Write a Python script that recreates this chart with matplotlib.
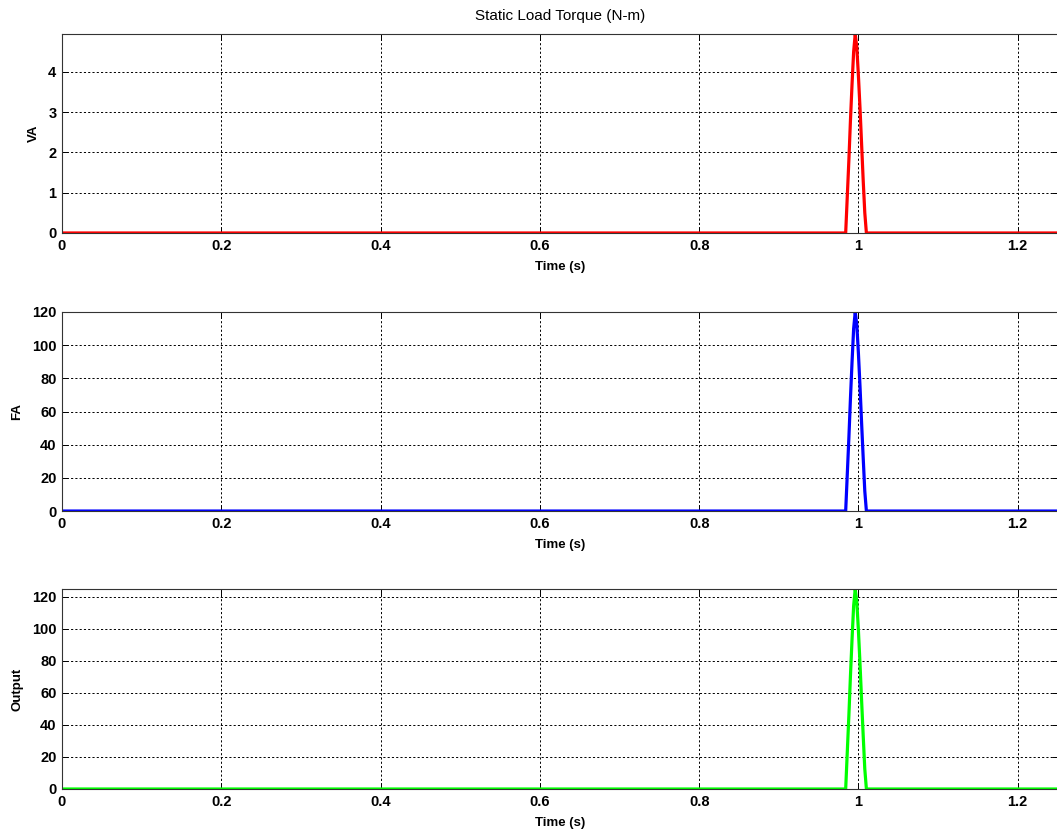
import matplotlib
matplotlib.use("Agg")
import matplotlib.pyplot as plt
from matplotlib import font_manager

names = {f.name for f in font_manager.fontManager.ttflist}
tick_family = ['Liberation Sans Narrow'] if 'Liberation Sans Narrow' in names else ['Liberation Sans']
plt.rcParams['font.family'] = ['Liberation Sans', 'DejaVu Sans']

# Sampled pulse around t = 1 s (time in seconds)
time_s = [0.0, 0.984, 0.986, 0.988, 0.990, 0.992, 0.994, 0.996, 0.998,
          1.000, 1.002, 1.004, 1.006, 1.008, 1.010, 1.25]
va = [0.0, 0.0, 0.9, 1.8, 2.8, 3.7, 4.5, 4.94, 4.6,
      3.9, 3.1, 2.2, 1.3, 0.5, 0.0, 0.0]
fa = [0.0, 0.0, 22.0, 44.0, 68.0, 90.0, 110.0, 120.0, 112.0,
      95.0, 75.0, 53.0, 32.0, 12.0, 0.0, 0.0]
output = [0.0, 0.0, 22.9, 45.8, 70.8, 93.7, 114.5, 124.94, 116.6,
          98.9, 78.1, 55.2, 33.3, 12.5, 0.0, 0.0]

x_ticks = [0, 0.2, 0.4, 0.6, 0.8, 1.0, 1.2]
x_tick_labels = ['0', '0.2', '0.4', '0.6', '0.8', '1', '1.2']

panels = [
    (va, 'VA', '#ff0000', [0, 1, 2, 3, 4], 4.94, [0.7193, 0.9590]),
    (fa, 'FA', '#0000ff', [0, 20, 40, 60, 80, 100, 120], 120.0, [0.3843, 0.6241]),
    (output, 'Output', '#00ff00', [0, 20, 40, 60, 80, 100, 120], 124.94, [0.0494, 0.2904]),
]

fig = plt.figure(figsize=(10.57, 8.30), dpi=100)
left, right = 62 / 1057, 1.0005

for i, (series, ylabel, color, yticks, ytop, (b, t)) in enumerate(panels):
    ax = fig.add_axes([left, b, right - left, t - b])
    ax.plot(time_s, series, color=color, linewidth=2.3, solid_joinstyle='miter')
    ax.set_xlim(0, 1.25)
    ax.set_ylim(0, ytop)
    ax.set_xticks(x_ticks)
    ax.set_xticklabels(x_tick_labels)
    ax.set_yticks(yticks)
    ax.grid(True, color='black', linestyle=(0, (2.2, 2.2)), linewidth=0.7)
    ax.tick_params(direction='in', length=4, width=0.7, top=True, right=True,
                   labelsize=10.5, pad=4)
    for lab in ax.get_xticklabels() + ax.get_yticklabels():
        lab.set_fontweight('bold')
        lab.set_family(tick_family)
    for sp in ax.spines.values():
        sp.set_linewidth(0.8)
        sp.set_color('#333333')
    ax.set_xlabel('Time (s)', fontsize=9.5, fontweight='bold', labelpad=6)
    ax.set_ylabel(ylabel, fontsize=9.5, fontweight='bold', labelpad=6)
    if i == 0:
        ax.set_title('Static Load Torque (N-m)', fontsize=11, pad=10)

fig.savefig('out.png', dpi=100, facecolor='white')
